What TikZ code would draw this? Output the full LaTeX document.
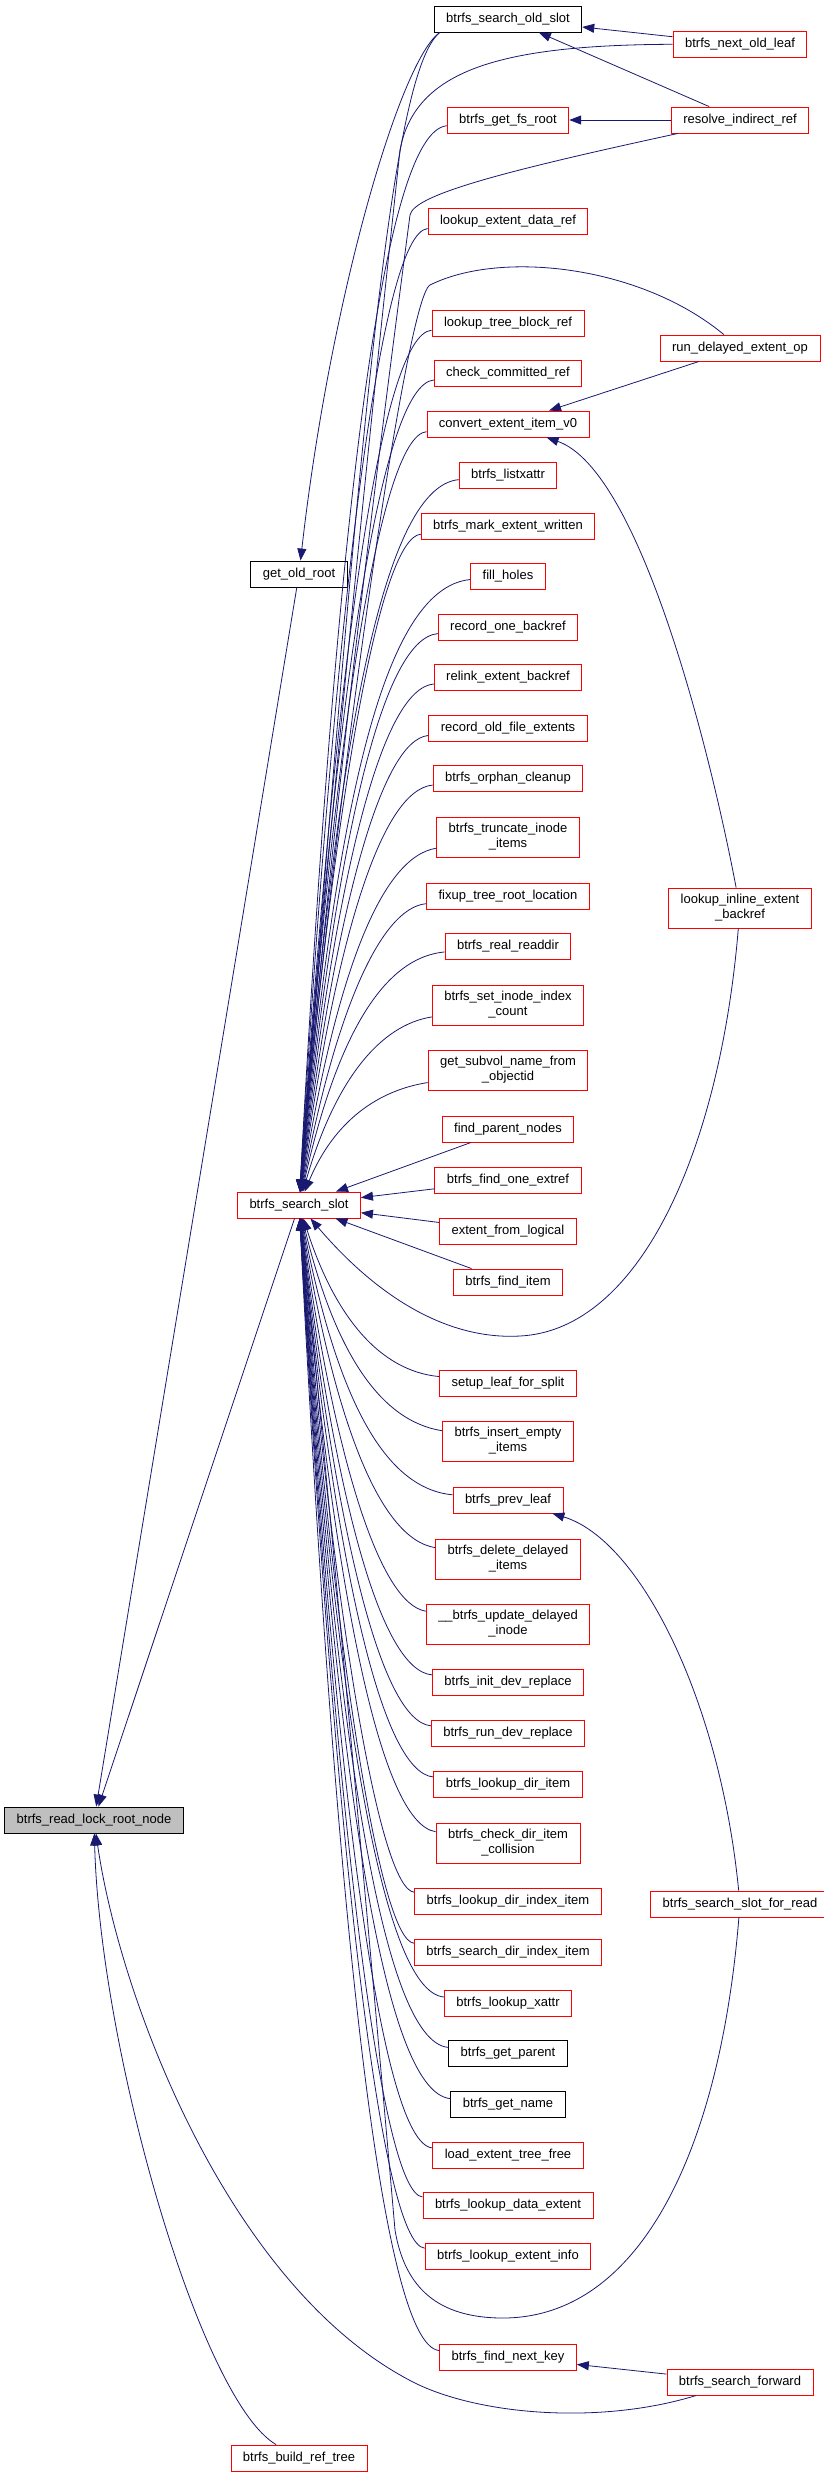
\documentclass[tikz,border=0pt]{standalone}
\usepackage{fontspec}
\newfontfamily\doxsans{Liberation Sans}
\usepackage{tikz}
\usetikzlibrary{arrows.meta}
\definecolor{navyline}{HTML}{191970}
\definecolor{callred}{HTML}{FF0000}
\definecolor{rootgray}{HTML}{BFBFBF}

\begin{document}
\begin{tikzpicture}[
  x=1pt, y=-1pt,
  fnbox/.style={draw=callred, fill=white, line width=0.9pt,
                font=\doxsans\fontsize{13}{15}\selectfont,
                inner xsep=12pt, inner ysep=4pt, minimum height=26pt},
  fn/.style={fnbox, text height=9.5pt, text depth=2.5pt},
  fnii/.style={fnbox, align=center, minimum height=40pt},
  nodoc/.style={draw=black},
  rootfn/.style={draw=black, fill=rootgray},
  calledge/.style={draw=navyline, line width=0.8pt,
                   -{Triangle[length=12pt, width=9pt]}},
]
\useasboundingbox (0,0) rectangle (824,2477);

\node[fn, rootfn] (root) at (94,1820) {btrfs\_read\_lock\_root\_node};
\node[fn, nodoc] (getold) at (299,574) {get\_old\_root};
\node[fn] (ss) at (299,1205) {btrfs\_search\_slot};
\node[fn] (buildref) at (299,2458) {btrfs\_build\_ref\_tree};

\node[fn, nodoc] (oldslot) at (508,19) {btrfs\_search\_old\_slot};
\node[fn] (fsroot) at (508,120) {btrfs\_get\_fs\_root};
\node[fn] (dataref) at (508,221) {lookup\_extent\_data\_ref};
\node[fn] (treeref) at (508,323) {lookup\_tree\_block\_ref};
\node[fn] (committed) at (508,373) {check\_committed\_ref};
\node[fn] (convert) at (508,424) {convert\_extent\_item\_v0};
\node[fn] (listxattr) at (508,475) {btrfs\_listxattr};
\node[fn] (markwritten) at (508,526) {btrfs\_mark\_extent\_written};
\node[fn] (fillholes) at (508,576) {fill\_holes};
\node[fn] (onebackref) at (508,627) {record\_one\_backref};
\node[fn] (relink) at (508,677) {relink\_extent\_backref};
\node[fn] (oldfile) at (508,728) {record\_old\_file\_extents};
\node[fn] (orphan) at (508,778) {btrfs\_orphan\_cleanup};
\node[fnii] (truncate) at (508,837) {btrfs\_truncate\_inode\\\_items};
\node[fn] (fixup) at (508,896) {fixup\_tree\_root\_location};
\node[fn] (readdir) at (508,946) {btrfs\_real\_readdir};
\node[fnii] (setindex) at (508,1005) {btrfs\_set\_inode\_index\\\_count};
\node[fnii] (subvol) at (508,1070) {get\_subvol\_name\_from\\\_objectid};
\node[fn] (parents) at (508,1129) {find\_parent\_nodes};
\node[fn] (oneextref) at (508,1180) {btrfs\_find\_one\_extref};
\node[fn] (logical) at (508,1231) {extent\_from\_logical};
\node[fn] (finditem) at (508,1282) {btrfs\_find\_item};
\node[fn] (setupleaf) at (508,1383) {setup\_leaf\_for\_split};
\node[fnii] (insertempty) at (508,1441) {btrfs\_insert\_empty\\\_items};
\node[fn] (prevleaf) at (508,1500) {btrfs\_prev\_leaf};
\node[fnii] (deldelayed) at (508,1559) {btrfs\_delete\_delayed\\\_items};
\node[fnii] (upddelayed) at (508,1624) {\_\_btrfs\_update\_delayed\\\_inode};
\node[fn] (initdev) at (508,1682) {btrfs\_init\_dev\_replace};
\node[fn] (rundev) at (508,1733) {btrfs\_run\_dev\_replace};
\node[fn] (lookupdir) at (508,1784) {btrfs\_lookup\_dir\_item};
\node[fnii] (checkdir) at (508,1843) {btrfs\_check\_dir\_item\\\_collision};
\node[fn] (dirindex) at (508,1901) {btrfs\_lookup\_dir\_index\_item};
\node[fn] (searchdir) at (508,1952) {btrfs\_search\_dir\_index\_item};
\node[fn] (xattr) at (508,2003) {btrfs\_lookup\_xattr};
\node[fn, nodoc] (getparent) at (508,2053) {btrfs\_get\_parent};
\node[fn, nodoc] (getname) at (508,2104) {btrfs\_get\_name};
\node[fn] (loadfree) at (508,2155) {load\_extent\_tree\_free};
\node[fn] (dataext) at (508,2205) {btrfs\_lookup\_data\_extent};
\node[fn] (extinfo) at (508,2256) {btrfs\_lookup\_extent\_info};
\node[fn] (findnext) at (508,2357) {btrfs\_find\_next\_key};

\node[fn] (nextold) at (740,44) {btrfs\_next\_old\_leaf};
\node[fn] (resolve) at (740,120) {resolve\_indirect\_ref};
\node[fn] (rundelayed) at (740,348) {run\_delayed\_extent\_op};
\node[fnii] (inline) at (740,908) {lookup\_inline\_extent\\\_backref};
\node[fn] (forread) at (740,1904) {btrfs\_search\_slot\_for\_read};
\node[fn] (forward) at (740,2382) {btrfs\_search\_forward};

\draw[calledge] (getold) -- (root);
\draw[calledge] (ss) -- (root);
\draw[calledge] (forward) .. controls (600,2425) and (480,2415) .. (415,2383)
  .. controls (230,2290) and (120,2000) .. (root);
\draw[calledge] (buildref) .. controls (200,2400) and (100,2050) .. (root);

\draw[calledge] ([xshift=6pt]oldslot.south west) .. controls (400,60) and (330,300) .. (getold);
\draw[calledge] ([xshift=6pt]oldslot.south west) .. controls (395,70) and (365,350) .. (ss);
\draw[calledge] (nextold) -- (oldslot);
\draw[calledge] (resolve) -- (oldslot);
\draw[calledge] (resolve) -- (fsroot);
\draw[calledge] (rundelayed) -- (convert);
\draw[calledge] (inline) .. controls (710,750) and (640,470) .. (convert);
\draw[calledge] (forread) .. controls (720,1700) and (640,1540) .. (prevleaf);
\draw[calledge] (forward) -- (findnext);

\draw[calledge] (nextold) .. controls (500,45) and (415,70) .. (400,150)
  .. controls (385,290) and (330,800) .. (ss);
\draw[calledge] (resolve) .. controls (500,172) and (414,195) .. (410,215)
  .. controls (395,330) and (330,820) .. (ss);
\draw[calledge] (rundelayed) .. controls (640,265) and (500,250) .. (430,285)
  .. controls (405,298) and (330,840) .. (ss);
\draw[calledge] (inline) .. controls (720,1150) and (640,1330) .. (520,1336)
  .. controls (450,1340) and (380,1300) .. (ss);
\draw[calledge] (forread) .. controls (720,2150) and (640,2320) .. (500,2318)
  .. controls (440,2317) and (405,2290) .. (395,2230)
  .. controls (375,2000) and (330,1500) .. (ss);

\draw[calledge] (fsroot) .. controls (380,132) and (335,549) .. (ss);
\draw[calledge] (dataref) .. controls (380,233) and (335,609) .. (ss);
\draw[calledge] (treeref) .. controls (380,335) and (335,671) .. (ss);
\draw[calledge] (committed) .. controls (380,385) and (335,701) .. (ss);
\draw[calledge] (convert) .. controls (380,436) and (335,731) .. (ss);
\draw[calledge] (listxattr) .. controls (380,487) and (335,762) .. (ss);
\draw[calledge] (markwritten) .. controls (380,538) and (335,792) .. (ss);
\draw[calledge] (fillholes) .. controls (380,588) and (335,822) .. (ss);
\draw[calledge] (onebackref) .. controls (380,639) and (335,853) .. (ss);
\draw[calledge] (relink) .. controls (380,689) and (335,883) .. (ss);
\draw[calledge] (oldfile) .. controls (380,740) and (335,914) .. (ss);
\draw[calledge] (orphan) .. controls (380,790) and (335,944) .. (ss);
\draw[calledge] (truncate) .. controls (380,857) and (335,979) .. (ss);
\draw[calledge] (fixup) .. controls (380,908) and (335,1014) .. (ss);
\draw[calledge] (readdir) .. controls (380,958) and (335,1044) .. (ss);
\draw[calledge] (setindex) .. controls (380,1025) and (335,1080) .. (ss);
\draw[calledge] (subvol) .. controls (380,1090) and (335,1119) .. (ss);
\draw[calledge] (parents) -- (ss);
\draw[calledge] (oneextref) -- (ss);
\draw[calledge] (logical) -- (ss);
\draw[calledge] (finditem) -- (ss);

\draw[calledge] (setupleaf) .. controls (380,1371) and (335,1317) .. (ss);
\draw[calledge] (insertempty) .. controls (380,1421) and (335,1352) .. (ss);
\draw[calledge] (prevleaf) .. controls (380,1488) and (335,1387) .. (ss);
\draw[calledge] (deldelayed) .. controls (380,1539) and (335,1423) .. (ss);
\draw[calledge] (upddelayed) .. controls (380,1604) and (335,1462) .. (ss);
\draw[calledge] (initdev) .. controls (380,1670) and (335,1496) .. (ss);
\draw[calledge] (rundev) .. controls (380,1721) and (335,1527) .. (ss);
\draw[calledge] (lookupdir) .. controls (380,1772) and (335,1558) .. (ss);
\draw[calledge] (checkdir) .. controls (380,1823) and (335,1593) .. (ss);
\draw[calledge] (dirindex) .. controls (380,1889) and (335,1628) .. (ss);
\draw[calledge] (searchdir) .. controls (380,1940) and (335,1658) .. (ss);
\draw[calledge] (xattr) .. controls (380,1991) and (335,1689) .. (ss);
\draw[calledge] (getparent) .. controls (380,2041) and (335,1719) .. (ss);
\draw[calledge] (getname) .. controls (380,2092) and (335,1750) .. (ss);
\draw[calledge] (loadfree) .. controls (380,2143) and (335,1780) .. (ss);
\draw[calledge] (dataext) .. controls (380,2193) and (335,1810) .. (ss);
\draw[calledge] (extinfo) .. controls (380,2244) and (335,1841) .. (ss);
\draw[calledge] (findnext) .. controls (380,2345) and (335,1901) .. (ss);

\end{tikzpicture}
\end{document}
